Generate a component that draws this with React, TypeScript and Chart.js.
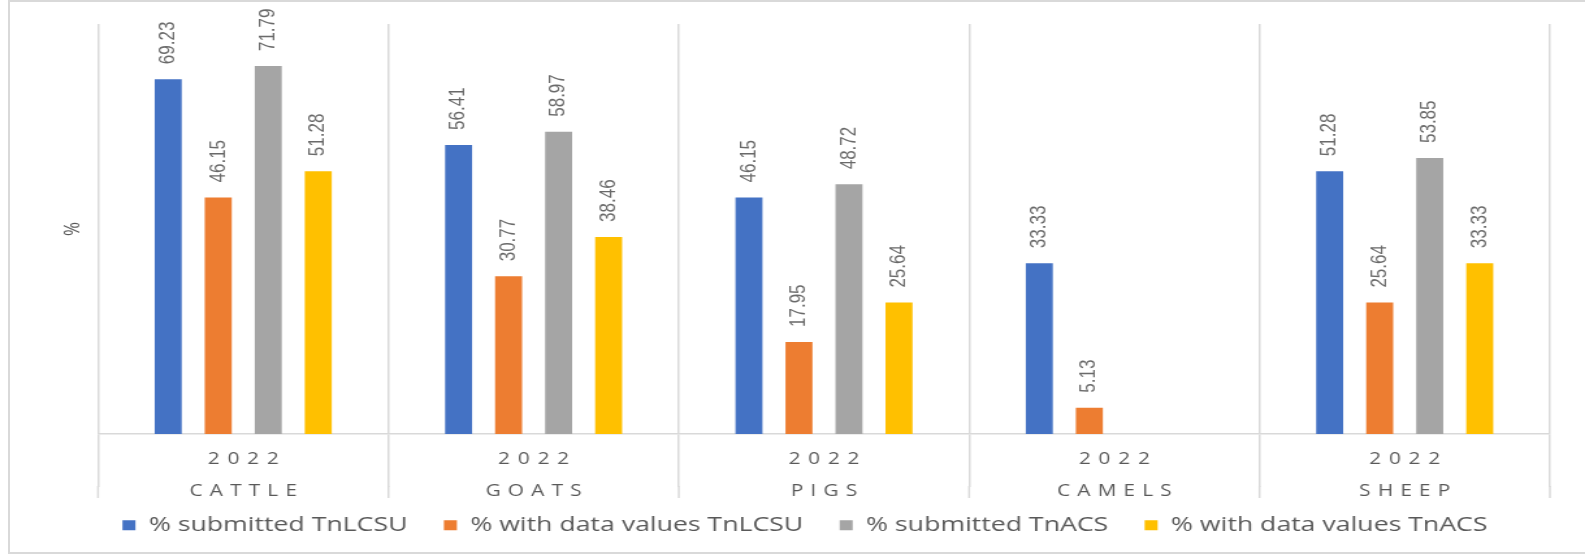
import React, { useEffect, useRef } from 'react';
import { Chart, registerables } from 'chart.js';

Chart.register(...registerables);

// ---- data ----
const categories = ['CATTLE', 'GOATS', 'PIGS', 'CAMELS', 'SHEEP'];
const yearLabel = '2022';
const seriesNames = [
  '% submitted TnLCSU',
  '% with data values TnLCSU',
  '% submitted TnACS',
  '% with data values TnACS',
];
const submittedTnLCSU = [69.23, 56.41, 46.15, 33.33, 51.28];
const withDataTnLCSU = [46.15, 30.77, 17.95, 5.13, 25.64];
const submittedTnACS = [71.79, 58.97, 48.72, null, 53.85];
const withDataTnACS = [51.28, 38.46, 25.64, null, 33.33];
const seriesColors = ['#4472C4', '#ED7D31', '#A5A5A5', '#FFC000'];
const yAxisTitle = '%';
const yMin = 0;
const yMax = 80;

// The reference is horizontally stretched; render narrower and stretch via CSS.
const PAGE_W = 1585;
const PAGE_H = 555;
const CANVAS_W = 1219;

const TICK_LEN = 53; // chart.js tick marks
const SEP_LEN = 64; // full separator length below the axis

function drawSpaced(ctx: CanvasRenderingContext2D, text: string, cx: number, cy: number, spacing: number) {
  const chars = Array.from(text);
  const widths = chars.map((c) => ctx.measureText(c).width);
  const total = widths.reduce((a, b) => a + b, 0) + spacing * (chars.length - 1);
  let x = cx - total / 2;
  ctx.textAlign = 'left';
  ctx.textBaseline = 'middle';
  chars.forEach((c, i) => {
    ctx.fillText(c, x, cy);
    x += widths[i] + spacing;
  });
}

const customPlugin = {
  id: 'customLabels',
  afterDatasetsDraw(chart: any) {
    const ctx: CanvasRenderingContext2D = chart.ctx;
    ctx.save();
    ctx.font = '17px "Liberation Sans Narrow", "Liberation Sans", sans-serif';
    ctx.fillStyle = '#6a6a6a';
    ctx.textAlign = 'left';
    ctx.textBaseline = 'middle';
    chart.data.datasets.forEach((ds: any, di: number) => {
      const meta = chart.getDatasetMeta(di);
      meta.data.forEach((bar: any, i: number) => {
        const v = ds.data[i];
        if (v == null) return;
        ctx.save();
        ctx.translate(bar.x, bar.y - 15);
        ctx.rotate(-Math.PI / 2);
        ctx.fillText(Number(v).toFixed(2), 0, 0);
        ctx.restore();
      });
    });
    ctx.restore();
  },
  afterDraw(chart: any) {
    const ctx: CanvasRenderingContext2D = chart.ctx;
    const xs = chart.scales.x;
    ctx.save();
    // extend category separators below the tick marks
    ctx.strokeStyle = '#d9d9d9';
    ctx.lineWidth = 1.5;
    const n = categories.length;
    const half = (xs.getPixelForValue(1) - xs.getPixelForValue(0)) / 2;
    for (let i = 0; i <= n; i++) {
      const x = i < n ? xs.getPixelForValue(i) - half : xs.getPixelForValue(n - 1) + half;
      ctx.beginPath();
      ctx.moveTo(x, xs.top + TICK_LEN - 1);
      ctx.lineTo(x, xs.top + SEP_LEN);
      ctx.stroke();
    }
    ctx.font = '16px "Open Sans"';
    ctx.fillStyle = '#595959';
    categories.forEach((cat, i) => {
      const cx = xs.getPixelForValue(i);
      drawSpaced(ctx, yearLabel, cx, xs.top + 25, 6);
      drawSpaced(ctx, cat, cx, xs.top + 57, 5.5);
    });
    ctx.restore();
  },
};

export default function App() {
  const canvasRef = useRef<HTMLCanvasElement | null>(null);

  useEffect(() => {
    if (!canvasRef.current) return;
    const seriesData = [submittedTnLCSU, withDataTnLCSU, submittedTnACS, withDataTnACS];
    const chart = new Chart(canvasRef.current, {
      type: 'bar',
      data: {
        labels: categories.map((c) => [yearLabel, c]),
        datasets: seriesNames.map((name, i) => ({
          label: name,
          data: seriesData[i] as any,
          backgroundColor: seriesColors[i],
          borderColor: seriesColors[i],
          borderWidth: 0,
          categoryPercentage: 0.689,
          barPercentage: 0.54,
        })),
      },
      options: {
        responsive: false,
        animation: false,
        devicePixelRatio: 1,
        layout: { padding: { left: 46.2, right: 27, top: 24, bottom: 9.5 } },
        plugins: {
          legend: {
            position: 'bottom',
            labels: {
              boxWidth: 10,
              boxHeight: 10,
              padding: 28,
              color: '#595959',
              font: { family: '"Open Sans"', size: 20.5 },
            },
          },
          tooltip: { enabled: false },
        },
        scales: {
          x: {
            offset: true,
            grid: {
              offset: true,
              color: '#d9d9d9',
              lineWidth: 1.5,
              tickLength: TICK_LEN,
              drawTicks: true,
              tickColor: '#d9d9d9',
              tickWidth: 1.5,
            },
            border: { display: true, color: '#d9d9d9', width: 1.5 },
            ticks: { display: false },
          },
          y: {
            min: yMin,
            max: yMax,
            ticks: { display: false },
            grid: { display: false, drawTicks: false },
            border: { display: false },
            title: {
              display: true,
              text: yAxisTitle,
              color: '#595959',
              font: { family: '"Open Sans"', size: 17 },
              padding: { top: 0, bottom: 8.8 },
            },
          },
        },
      } as any,
      plugins: [customPlugin],
    });
    return () => chart.destroy();
  }, []);

  return (
    <div
      style={{
        position: 'fixed',
        left: 0,
        top: 0,
        width: PAGE_W,
        height: PAGE_H,
        background: '#ffffff',
        overflow: 'hidden',
      }}
    >
      <div
        style={{
          position: 'absolute',
          left: 8,
          top: 0,
          width: PAGE_W - 8,
          height: PAGE_H - 1,
          border: '2px solid #d9d9d9',
          borderRight: 'none',
          boxSizing: 'border-box',
        }}
      />
      <canvas
        ref={canvasRef}
        width={CANVAS_W}
        height={PAGE_H}
        style={{ position: 'absolute', left: 0, top: 0, width: PAGE_W + 'px', height: PAGE_H + 'px', display: 'block' }}
      />
    </div>
  );
}
